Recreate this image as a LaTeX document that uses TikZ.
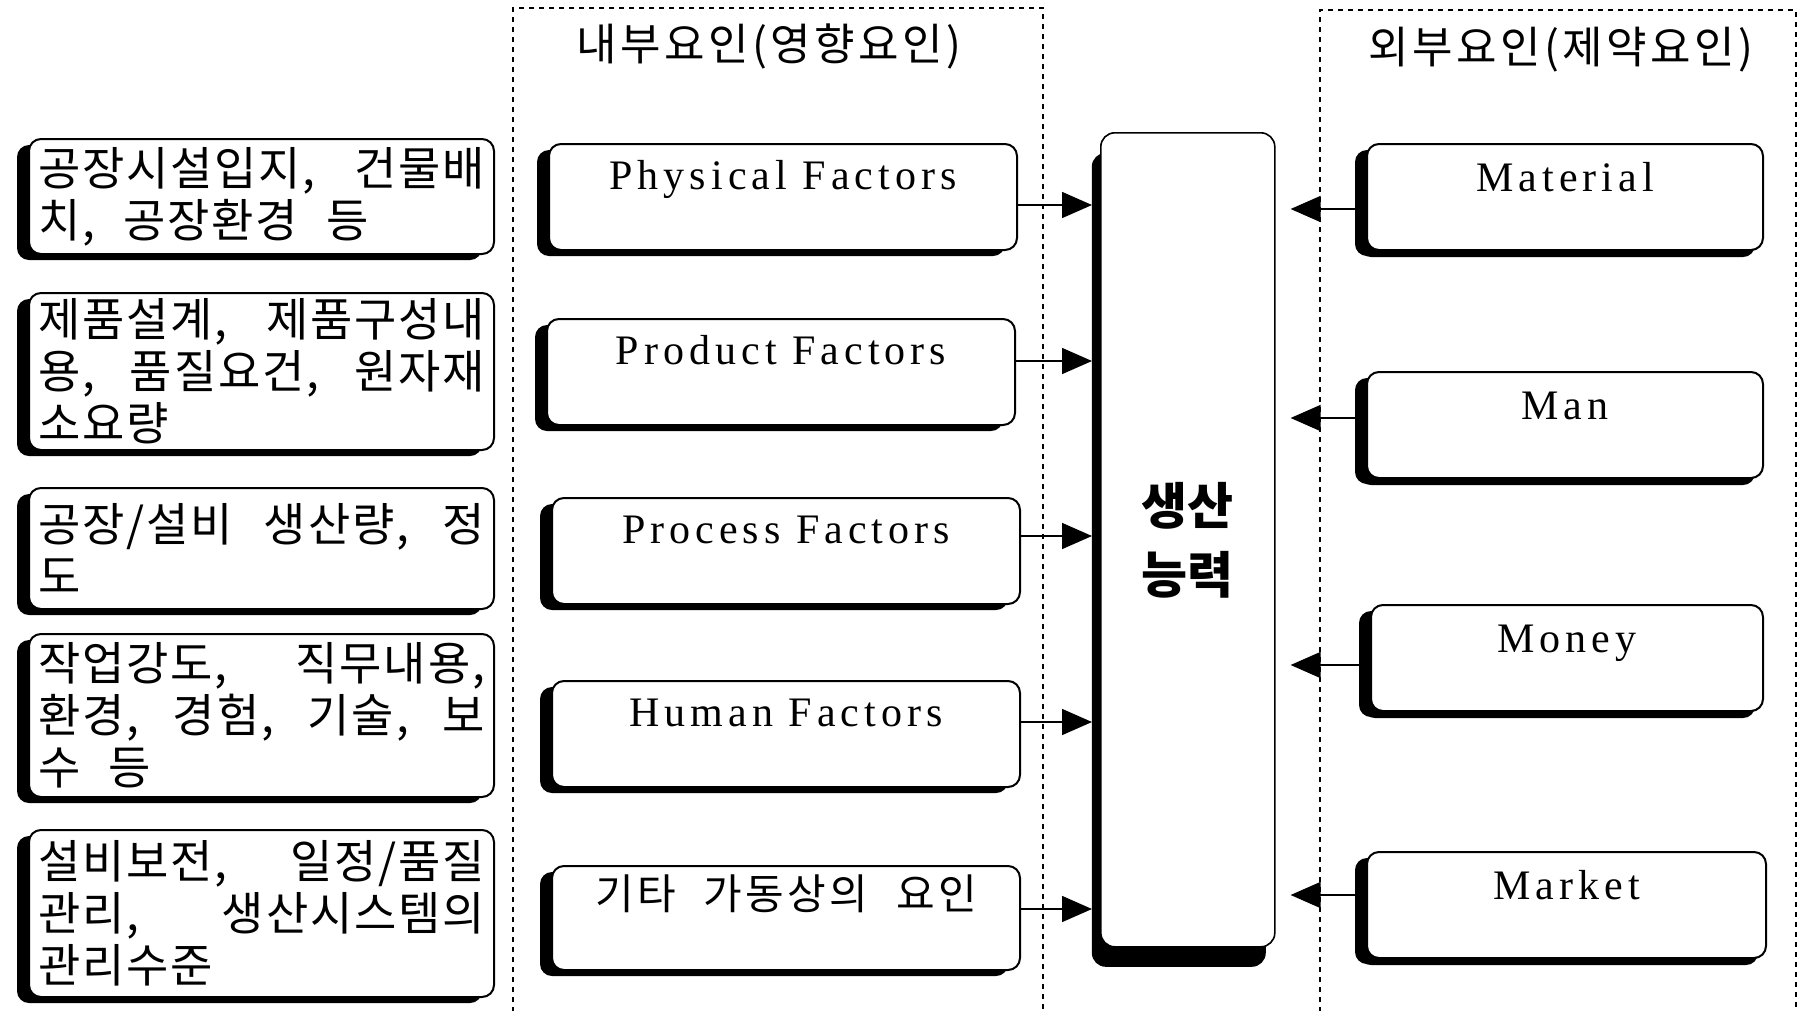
\documentclass[tikz,border=0pt]{standalone}
\usepackage{fontspec}
\setmainfont[LetterSpace=4]{Noto Sans CJK KR}
\newfontfamily\latinface[LetterSpace=12]{Liberation Serif}
\newfontfamily\hdrface[LetterSpace=8]{Noto Sans CJK KR}
\newfontfamily\corefont{Noto Sans CJK KR}
\usetikzlibrary{arrows.meta,shadows,calc}

% one justified line filling the box width
\newcommand{\jl}[1]{\leavevmode\hbox to \hsize{\spaceskip=0.5em plus 1fil\relax #1}}
% last line of a paragraph, natural width with wide word spaces
\newcommand{\el}[1]{\leavevmode\hbox{\spaceskip=0.62em\relax #1}}

\tikzset{
  boxbase/.style={draw, line width=2pt, rounded corners=12pt, fill=white, anchor=north west},
  leftbox/.style={boxbase, text width=447pt, inner xsep=9pt, inner ysep=0pt, align=left,
    font=\fontsize{46}{52}\selectfont,
    general shadow={fill=black, shadow xshift=-12pt, shadow yshift=-6pt}},
  midbox/.style={boxbase, minimum width=468pt, text height=45pt, text depth=61pt,
    inner ysep=0pt, inner xsep=0pt, align=center,
    font=\latinface\fontsize{42}{50}\selectfont,
    general shadow={fill=black, shadow xshift=-12pt, shadow yshift=-6pt}},
  rightbox/.style={midbox, minimum width=396pt, text height=47pt, text depth=59pt,
    general shadow={fill=black, shadow xshift=-8pt, shadow yshift=-7pt}},
  corebox/.style={draw, line width=1.6pt, rounded corners=14pt, fill=white, anchor=north west,
    minimum width=174pt, minimum height=814pt, align=center,
    font=\corefont\bfseries\fontsize{50}{69}\selectfont,
    general shadow={fill=black, shadow xshift=-9pt, shadow yshift=-20pt}},
  grpframe/.style={line width=1.8pt, dash pattern=on 5pt off 5pt},
  header/.style={font=\hdrface\fontsize{44}{52}\selectfont, inner sep=0pt},
  arr/.style={line width=1.6pt, -{Triangle[length=30pt,width=26pt]}},
}

\begin{document}
\begin{tikzpicture}[x=1pt, y=-1pt]
  \useasboundingbox[fill=white] (0,0) rectangle (1805,1010);

  % group frames (open at the bottom)
  \draw[grpframe] (513,1012) -- (513,8) -- (1043,8) -- (1043,1012);
  \draw[grpframe] (1320,1012) -- (1320,10) -- (1796,10) -- (1796,1012);

  \node[header] (hin) at (769,46) {내부요인(영향요인)};
  \node[header] (hout) at (1561,50) {외부요인(제약요인)};

  % detailed descriptions
  \node[leftbox, minimum height=115pt] (d1) at (28,138)
    {\jl{공장시설입지, 건물배}\\\el{치, 공장환경 등}};
  \node[leftbox, minimum height=157pt] (d2) at (28,292)
    {\jl{제품설계, 제품구성내}\\\jl{용, 품질요건, 원자재}\\\el{소요량}};
  \node[leftbox, minimum height=121pt] (d3) at (28,487)
    {\jl{공장/설비 생산량, 정}\\\el{도}};
  \node[leftbox, minimum height=163pt] (d4) at (28,633)
    {\jl{작업강도, 직무내용,}\\\jl{환경, 경험, 기술, 보}\\\el{수 등}};
  \node[leftbox, minimum height=167pt] (d5) at (28,829)
    {\jl{설비보전, 일정/품질}\\\jl{관리, 생산시스템의}\\\el{관리수준}};

  % internal factors
  \node[midbox] (phys) at (548,143) {Physical Factors};
  \node[midbox] (prod) at (546,318) {Product Factors};
  \node[midbox] (proc) at (551,497) {Process Factors};
  \node[midbox] (human) at (551,680) {Human Factors};
  \node[midbox, font=\hdrface\fontsize{42}{50}\selectfont, text height=43pt, text depth=61pt] (etc) at (551,865)
    {기타\hspace{28pt}가동상의\hspace{28pt}요인};

  % production capacity
  \node[corebox] (core) at (1100,132) {생산\\능력};

  % external factors
  \node[rightbox] (mat) at (1366,143) {Material};
  \node[rightbox] (man) at (1366,371) {Man};
  \node[rightbox, minimum width=392pt] (money) at (1370,604) {Money};
  \node[rightbox, minimum width=399pt] (market) at (1366,851) {Market};

  % internal factors feed the capacity
  \draw[arr, shorten >=8pt] ([yshift=-8pt]phys.east) -- ([yshift=-8pt]phys.east -| core.west);
  \draw[arr, shorten >=8pt] ([yshift=11pt]prod.east) -- ([yshift=11pt]prod.east -| core.west);
  \draw[arr, shorten >=8pt] ([yshift=15pt]proc.east) -- ([yshift=15pt]proc.east -| core.west);
  \draw[arr, shorten >=8pt] ([yshift=12pt]human.east) -- ([yshift=12pt]human.east -| core.west);
  \draw[arr, shorten >=8pt] ([yshift=9pt]etc.east) -- ([yshift=9pt]etc.east -| core.west);

  % external constraints
  \draw[arr, shorten >=15pt] ([yshift=-12pt]mat.west) -- ([yshift=-12pt]mat.west -| core.east);
  \draw[arr, shorten >=15pt] ([yshift=7pt]man.west) -- ([yshift=7pt]man.west -| core.east);
  \draw[arr, shorten >=15pt] ([yshift=-7pt]money.west) -- ([yshift=-7pt]money.west -| core.east);
  \draw[arr, shorten >=15pt] ([yshift=10pt]market.west) -- ([yshift=10pt]market.west -| core.east);
\end{tikzpicture}
\end{document}
